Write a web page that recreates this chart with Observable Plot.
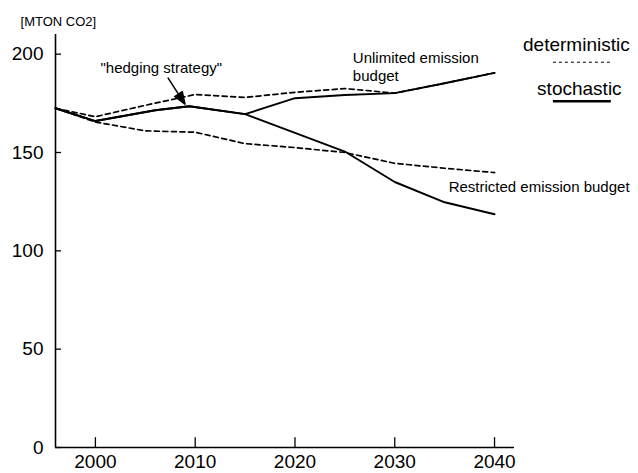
<!DOCTYPE html>
<html>
<head>
<meta charset="utf-8">
<script src="https://cdn.jsdelivr.net/npm/d3@7"></script>
<script src="https://cdn.jsdelivr.net/npm/@observablehq/plot@0.6"></script>
<style>
  html, body { margin: 0; padding: 0; background: #fff; }
  #chart svg { display: block; }
</style>
</head>
<body>
<div id="chart"></div>
<script>
// ---- data ----
const stochYears = [1996, 2000, 2006, 2009.4, 2015, 2020, 2025, 2030, 2035, 2040];
const stochUnlimited = [172.5, 166, 171.5, 173.5, 169.5, 177.6, 179.2, 180.2, 185.2, 190.5];
const stochRestricted = [172.5, 166, 171.5, 173.5, 169.5, 160, 150.5, 135, 124.7, 118.6];
const detYears = [1996, 2000, 2005, 2010, 2015, 2020, 2025, 2030, 2035, 2040];
const detUnlimited = [172.5, 168.2, 174, 179.5, 178, 180.6, 182.5, 180.2, 185.2, 190.5];
const detRestricted = [172.5, 165.5, 161, 160.3, 154.5, 152.5, 150, 144.5, 142, 139.8];

const xTicks = [2000, 2010, 2020, 2030, 2040];
const yTicks = [0, 50, 100, 150, 200];
const unitLabel = "[MTON CO2]";
const hedgeLabel = '"hedging strategy"';
const unlimitedLabel = "Unlimited emission\nbudget";
const restrictedLabel = "Restricted emission budget";
const legendLabels = ["deterministic", "stochastic"];

// ---- build tables ----
const stoch = [];
stochYears.forEach((yr, i) => {
  stoch.push({year: yr, value: stochUnlimited[i], series: "stoch-unlimited"});
  stoch.push({year: yr, value: stochRestricted[i], series: "stoch-restricted"});
});
const det = [];
detYears.forEach((yr, i) => {
  det.push({year: yr, value: detUnlimited[i], series: "det-unlimited"});
  det.push({year: yr, value: detRestricted[i], series: "det-restricted"});
});

const xDomain = [1996, 2042];
const yDomain = [0, 210];

// arrow with filled head
const filledArrow = {
  draw(context, l) {
    const h = 12, w = 4.5;
    context.moveTo(0, 0);
    context.lineTo(0, -l + h);
    context.moveTo(0, -l);
    context.lineTo(-w, -l + h);
    context.lineTo(w, -l + h);
    context.closePath();
  }
};

const font = "Liberation Sans, Arial, Helvetica, sans-serif";

const chart = Plot.plot({
  width: 638,
  height: 473,
  marginLeft: 55,
  marginRight: 124,
  marginTop: 34,
  marginBottom: 26,
  style: {fontFamily: font, fontSize: "19px", color: "#000", background: "#fff", overflow: "visible"},
  x: {domain: xDomain, ticks: xTicks, tickSize: 0, tickPadding: 7, tickFormat: d => String(d), label: null},
  y: {domain: yDomain, ticks: yTicks, tickSize: 0, tickPadding: 12, label: null},
  marks: [
    // axis lines and inward ticks
    Plot.ruleX([xDomain[0]], {stroke: "#000", strokeWidth: 1.6}),
    Plot.ruleY([0], {stroke: "#000", strokeWidth: 1.6}),
    Plot.ruleY(yTicks, {y: d => d, x1: xDomain[0], x2: xDomain[0] + 0.6, stroke: "#000", strokeWidth: 1.3}),
    Plot.ruleX(xTicks, {x: d => d, y1: 0, y2: 5, stroke: "#000", strokeWidth: 1.3}),
    // series
    Plot.line(det, {x: "year", y: "value", z: "series", stroke: "#000", strokeWidth: 1.7, strokeDasharray: "5,3.5"}),
    Plot.line(stoch, {x: "year", y: "value", z: "series", stroke: "#000", strokeWidth: 1.9}),
    // annotations
    Plot.text([unitLabel], {x: 1992.5, y: 216.3, text: d => d, textAnchor: "start", fontSize: 13}),
    Plot.text([hedgeLabel], {x: 2006.6, y: 192.9, text: d => d, fontSize: 15}),
    Plot.vector([0], {x: 2008.98, y: 174.6, length: 31, rotate: 147, anchor: "end", shape: filledArrow, stroke: "#000", fill: "#000", strokeWidth: 1.5}),
    Plot.text([unlimitedLabel], {x: 2025.8, y: 193.9, text: d => d, textAnchor: "start", fontSize: 15, lineHeight: 1.2}),
    Plot.text([restrictedLabel], {x: 2035.4, y: 132.3, text: d => d, textAnchor: "start", fontSize: 15}),
    // legend
    Plot.text([legendLabels[0]], {x: 2048.2, y: 204.6, text: d => d, fontSize: 19}),
    Plot.ruleY([195.9], {x1: 2045.9, x2: 2051.7, stroke: "#000", strokeWidth: 1, strokeDasharray: "3,3"}),
    Plot.text([legendLabels[1]], {x: 2048.5, y: 182.2, text: d => d, fontSize: 19}),
    Plot.ruleY([176.1], {x1: 2045.9, x2: 2051.7, stroke: "#000", strokeWidth: 2.5})
  ]
});

document.getElementById("chart").appendChild(chart);
</script>
</body>
</html>
